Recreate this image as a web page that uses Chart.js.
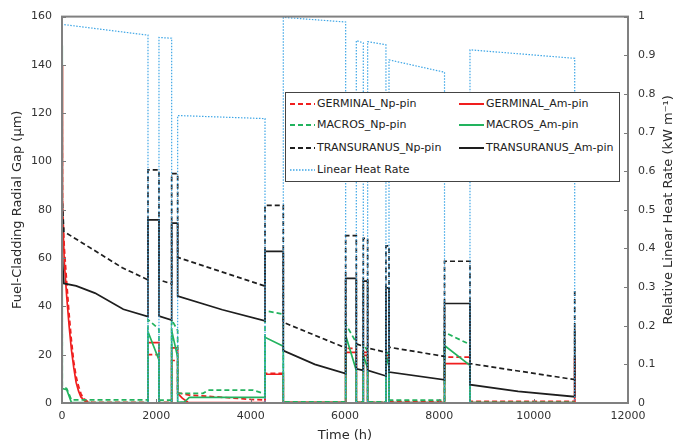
<!DOCTYPE html>
<html><head><meta charset="utf-8">
<script src="https://cdn.jsdelivr.net/npm/chart.js@4.4.0/dist/chart.umd.min.js"></script>
<style>
html,body{margin:0;padding:0;background:#fff;}
#wrap{position:relative;width:688px;height:445px;}
canvas{display:block;}
#legend{position:absolute;left:285px;top:92px;width:335px;height:90px;border:1px solid #444;background:#fff;box-sizing:border-box;font-family:"DejaVu Sans",Verdana,sans-serif;font-size:11px;color:#222;}
.item{position:absolute;height:14px;line-height:14px;white-space:nowrap;}
.item svg{position:absolute;left:0;top:5px;}
.item span{position:absolute;left:27px;top:0;}
</style></head>
<body><div id="wrap"><canvas id="c" width="688" height="445"></canvas><div id="legend"></div></div>
<script>
// ---- Data (time in h, gap in µm, relative LHR on right axis) ----
const lhrT = [0,0,1823,1823,2056,2056,2325,2325,2452,2452,4304,4304,4692,4692,6014,6014,6240,6240,6388,6388,6480,6480,6868,6868,6933,6933,8110,8110,8650,8650,10870,10870];
const lhrV = [0,0.98,0.952,0,0,0.946,0.944,0,0,0.744,0.736,0,0,0.998,0.986,0,0,0.938,0.932,0,0,0.935,0.927,0,0,0.888,0.856,0,0,0.914,0.892,0];

const truNpT = [0,40,1280,1823,1823,2056,2056,2325,2325,2452,2452,4304,4304,4692,4692,6014,6014,6240,6240,6388,6388,6480,6480,6868,6868,6933,6933,8110,8110,8650,8650,10870,10870];
const truNpV = [86,71,56,51,96.5,96.5,51,49.3,95,95,60.3,48.4,81.8,81.8,33.4,22.8,69.3,69.3,24.5,23.5,68.2,68.2,22.8,21,65.1,65.1,23.1,19.3,58.7,58.7,16.3,9.7,47];

const truAmT = [0,40,300,700,1300,1823,1823,2056,2056,2325,2325,2452,2452,3400,4304,4304,4692,4692,5360,6014,6014,6240,6240,6388,6388,6480,6480,6868,6868,6933,6933,8110,8110,8650,8650,9670,10870,10870];
const truAmV = [62,49.5,48.5,45.5,38.8,35.8,75.8,75.8,36,34.3,74.5,74.5,44.3,38.6,34,62.8,62.8,21.7,16,12.2,51.6,51.6,14.2,13.5,50.5,50.5,13.5,11.2,47.7,47.7,12.8,9.6,41.2,41.2,7.6,4.8,2.6,31];

const gerAmT = [0,10,50,100,150,200,250,300,350,400,500,600,1823,1823,2056,2056,2325,2325,2452,2452,2550,2670,4304,4304,4692,4692,6014,6014,6240,6240,6388,6388,6480,6480,6868,6868,6933,6933,8110,8110,8650,8650,10870,10870];
const gerAmV = [140,79,58,44,32,22,14.5,8.5,5,2.5,0.5,0.1,0.1,25,25,0.1,0.1,22.8,22.8,4,2,0.3,0.2,11.9,11.9,0.2,0.2,21,21,0.2,0.2,19.7,19.7,0.2,0.2,18.5,18.5,0.2,0.2,16.3,16.3,0.2,0.2,19];

const gerNpT = [0,10,50,100,150,200,250,300,350,400,450,550,650,1823,1823,2056,2056,2325,2325,2452,2452,2700,3300,4000,4304,4304,4692,4692,6014,6014,6240,6240,6388,6388,6480,6480,6868,6868,6933,6933,8110,8110,8650,8650,10870,10870];
const gerNpV = [140,82,64,50,37,26,17,11,7,4,2,0.5,0.3,0.3,20,20,0.3,0.3,17.6,17.6,4.2,3.3,2.5,1.5,1.2,12.3,12.3,0.3,0.3,22.6,22.6,0.3,0.3,21,21,0.3,0.3,19.7,19.7,0.6,0.6,19,19,0.7,0.7,19];

const macNpT = [0,5,100,200,1823,1823,2056,2056,2325,2325,2452,2452,2990,3100,4050,4304,4304,4692,4692,6014,6014,6240,6240,6388,6388,6480,6480,6868,6868,6933,6933,8110,8110,8650,8650,10870];
const macNpV = [148,7,6,1.3,1.3,34.5,30.6,1.2,1.2,34.5,30,4,4,5.3,5.3,3.8,38.2,36.8,0.5,0.5,32.7,25,0.5,0.5,24.5,21.5,0.5,0.5,22,20,1.2,1.2,29.3,24.2,0.3,0.3];

const macAmT = [0,5,100,200,1823,1823,2056,2056,2325,2325,2452,2452,2600,2700,4304,4304,4692,4692,6014,6014,6240,6240,6388,6388,6480,6480,6868,6868,6933,6933,8110,8110,8650,8650,10870];
const macAmV = [148,6,5.5,0.2,0.2,29.5,17.8,0.2,0.2,30,19,0.3,0.5,2.3,2.3,27.2,23.5,0.2,0.2,28,13.5,0.2,0.2,19.7,14.5,0.2,0.2,20,15,0.2,0.2,23.8,15.6,0.2,0.2];

const xTicks = [0,2000,4000,6000,8000,10000,12000];
const yTicks = [0,20,40,60,80,100,120,140,160];
const y1Ticks = [0,0.1,0.2,0.3,0.4,0.5,0.6,0.7,0.8,0.9,1];

const RED = '#f01e1e', GREEN = '#22b35e', BLACK = '#1e1e1e', BLUE = '#3ea6e6';
const FONT = '"DejaVu Sans", Verdana, sans-serif';

function pts(t, v) { return t.map((x, i) => ({x: x, y: v[i]})); }

const series = [
  {label:'GERMINAL_Np-pin', t:gerNpT, v:gerNpV, color:RED, dash:[5,3], w:1.7, order:6},
  {label:'GERMINAL_Am-pin', t:gerAmT, v:gerAmV, color:RED, dash:[], w:1.7, order:5},
  {label:'MACROS_Np-pin', t:macNpT, v:macNpV, color:GREEN, dash:[5,3], w:1.7, order:4},
  {label:'MACROS_Am-pin', t:macAmT, v:macAmV, color:GREEN, dash:[], w:1.7, order:3},
  {label:'TRANSURANUS_Np-pin', t:truNpT, v:truNpV, color:BLACK, dash:[5,3], w:1.7, order:2},
  {label:'TRANSURANUS_Am-pin', t:truAmT, v:truAmV, color:BLACK, dash:[], w:1.7, order:1},
  {label:'Linear Heat Rate', t:lhrT, v:lhrV, color:BLUE, dash:[1.5,1.5], w:1.2, order:0, axis:'y1'}
];

const datasets = series.map(s => ({
  label: s.label, data: pts(s.t, s.v), borderColor: s.color, backgroundColor: s.color,
  borderWidth: s.w, borderDash: s.dash, pointRadius: 0, tension: 0, fill: false,
  showLine: true, order: s.order, yAxisID: s.axis || 'y'
}));

const framePlugin = {
  id: 'frame',
  afterDatasetsDraw(chart) {
    const {ctx, chartArea: a, scales} = chart;
    ctx.save();
    ctx.strokeStyle = '#7a7a7a';
    ctx.lineWidth = 1;
    ctx.beginPath();
    yTicks.forEach(v => { const p = Math.round(scales.y.getPixelForValue(v)) + 0.5; ctx.moveTo(a.left, p); ctx.lineTo(a.left + 4, p); });
    y1Ticks.forEach(v => { const p = Math.round(scales.y1.getPixelForValue(v)) + 0.5; ctx.moveTo(a.right - 4, p); ctx.lineTo(a.right, p); });
    xTicks.forEach(v => { const p = Math.round(scales.x.getPixelForValue(v)) + 0.5; ctx.moveTo(p, a.bottom); ctx.lineTo(p, a.bottom - 4); });
    ctx.stroke();
    ctx.lineWidth = 2;
    ctx.strokeStyle = '#808080';
    ctx.strokeRect(a.left, a.top, a.right - a.left, a.bottom - a.top);
    // axis titles
    ctx.fillStyle = '#2a2a2a';
    ctx.font = '13px ' + FONT;
    ctx.textAlign = 'center';
    ctx.textBaseline = 'middle';
    const cy = (a.top + a.bottom) / 2;
    ctx.save(); ctx.translate(18, cy); ctx.rotate(-Math.PI / 2);
    ctx.fillText('Fuel-Cladding Radial Gap (μm)', 0, 0); ctx.restore();
    ctx.save(); ctx.translate(669, cy); ctx.rotate(-Math.PI / 2);
    ctx.fillText('Relative Linear Heat Rate (kW m⁻¹)', 0, 0); ctx.restore();
    ctx.fillText('Time (h)', (a.left + a.right) / 2, 436);
    ctx.restore();
  }
};

const tickFont = {family: FONT, size: 11};
new Chart(document.getElementById('c'), {
  type: 'line',
  data: {datasets: datasets},
  options: {
    responsive: false, animation: false, devicePixelRatio: 1,
    layout: {padding: {top: 13, left: 0, right: 0, bottom: 0}},
    plugins: {legend: {display: false}, tooltip: {enabled: false}},
    scales: {
      x: {type: 'linear', min: 0, max: 12000,
        afterBuildTicks: s => { s.ticks = xTicks.map(v => ({value: v})); },
        ticks: {font: tickFont, color: '#333', padding: 7, maxRotation: 0, autoSkip: false, callback: v => String(v)},
        grid: {display: false, drawTicks: false}, border: {display: false},
        afterFit: s => { s.height = 42; }},
      y: {type: 'linear', position: 'left', min: 0, max: 160,
        afterBuildTicks: s => { s.ticks = yTicks.map(v => ({value: v})); },
        ticks: {font: tickFont, color: '#333', padding: 10, callback: v => String(v)},
        grid: {display: false, drawTicks: false}, border: {display: false},
        afterFit: s => { s.width = 62; }},
      y1: {type: 'linear', position: 'right', min: 0, max: 1,
        afterBuildTicks: s => { s.ticks = y1Ticks.map(v => ({value: v})); },
        ticks: {font: tickFont, color: '#333', padding: 10, callback: v => String(Math.round(v * 10) / 10)},
        grid: {display: false, drawTicks: false}, border: {display: false},
        afterFit: s => { s.width = 60; }}
    }
  },
  plugins: [framePlugin]
});

// ---- HTML legend ----
const legendPos = [
  [4, 11], [173, 11],
  [4, 32], [173, 32],
  [4, 55], [173, 55],
  [4, 77]
];
const lg = document.getElementById('legend');
series.forEach((s, i) => {
  const d = document.createElement('div');
  d.className = 'item';
  d.style.left = legendPos[i][0] + 'px';
  d.style.top = (legendPos[i][1] - 7) + 'px';
  const dash = s.dash.length ? ' stroke-dasharray="' + s.dash.join(',') + '"' : '';
  d.innerHTML = '<svg width="25" height="4"><line x1="0" y1="2" x2="25" y2="2" stroke="' + s.color + '" stroke-width="' + (s.w + 0.3) + '"' + dash + '/></svg><span>' + s.label + '</span>';
  lg.appendChild(d);
});
</script>
</body></html>
